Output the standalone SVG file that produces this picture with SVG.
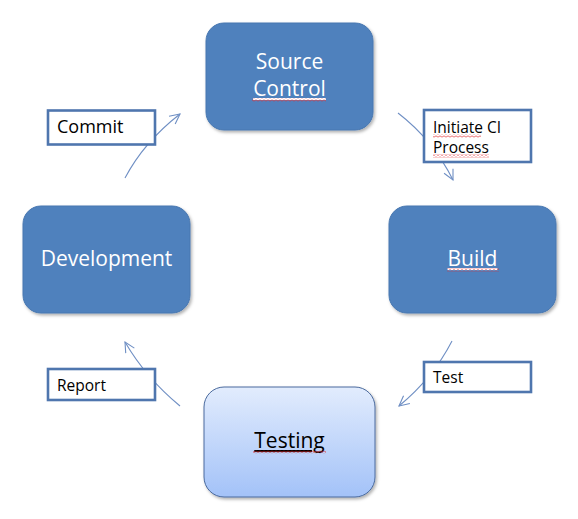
<svg xmlns="http://www.w3.org/2000/svg" width="578" height="519" viewBox="0 0 578 519">
<style>
.node{fill:#4F81BD;stroke:#4877b0;stroke-width:1}
.ntext{font-family:"Open Sans","Noto Sans",sans-serif;font-size:21px;fill:#ffffff;text-anchor:middle}
.lbl{fill:#ffffff;stroke:#4f76ae;stroke-width:2.6}
.ltext{font-family:"Open Sans","Noto Sans",sans-serif;font-size:15.5px;fill:#000000}
.conn{fill:none;stroke:#6f8fc4;stroke-width:1.1;marker-end:url(#arr)}
.sq{fill:url(#squig)}
</style>
<defs>
<marker id="arr" viewBox="0 0 12 12" refX="11" refY="6" markerWidth="12" markerHeight="12" markerUnits="userSpaceOnUse" orient="auto">
<path d="M1 1 L11 6 L1 11" fill="none" stroke="#6f8fc4" stroke-width="1.1"/>
</marker>
<pattern id="squig" width="4" height="3" patternUnits="userSpaceOnUse">
<path d="M0 0.5 L2 2.5 L4 0.5" fill="none" stroke="#e0282c" stroke-width="0.9"/>
</pattern>
<linearGradient id="tg" x1="0" y1="0" x2="0" y2="1">
<stop offset="0" stop-color="#e2ecfd"/>
<stop offset="1" stop-color="#a3c2f8"/>
</linearGradient>
<filter id="sh" x="-10%" y="-10%" width="130%" height="130%">
<feDropShadow dx="1.5" dy="2" stdDeviation="1.5" flood-color="#000" flood-opacity="0.3"/>
</filter>
</defs>
<g id="connectors">
<path class="conn" d="M125 178 Q144 142 180 114"/>
<path class="conn" d="M398 113 Q433 140 453 180"/>
<path class="conn" d="M452 341 Q433 378 399 406"/>
<path class="conn" d="M180 406 Q146 378 125 342"/>
</g>
<g id="source-control">
<rect class="node" x="206" y="23" width="167" height="107" rx="18" filter="url(#sh)"/>
<text class="ntext" x="289.5" y="69">Source</text>
<text class="ntext" x="289.5" y="96" text-decoration="underline">Control</text>
<rect class="sq" x="252" y="98.5" width="74" height="3"/>
</g>
<g id="build">
<rect class="node" x="389" y="206" width="167" height="107" rx="18" filter="url(#sh)"/>
<text class="ntext" x="472.5" y="266" text-decoration="underline">Build</text>
<rect class="sq" x="447" y="268.5" width="52" height="3"/>
</g>
<g id="testing">
<rect x="204" y="387" width="171" height="110" rx="20" fill="url(#tg)" stroke="#4a6a9e" stroke-width="1" filter="url(#sh)"/>
<text class="ntext" x="289.5" y="448" style="fill:#000000" text-decoration="underline">Testing</text>
<rect class="sq" x="253" y="450.5" width="73" height="3"/>
</g>
<g id="development">
<rect class="node" x="23" y="206" width="167" height="107" rx="18" filter="url(#sh)"/>
<text class="ntext" x="106.5" y="266">Development</text>
</g>
<g id="commit">
<rect class="lbl" x="48" y="110.5" width="107" height="34"/>
<text class="ltext" x="57" y="133" style="font-size:18px">Commit</text>
</g>
<g id="initiate-ci">
<rect class="lbl" x="424" y="110" width="107" height="52"/>
<text class="ltext" x="433" y="133">Initiate CI</text>
<text class="ltext" x="433" y="153">Process</text>
<rect class="sq" x="433" y="134.5" width="48" height="3"/>
<rect class="sq" x="433" y="154.5" width="56" height="3"/>
</g>
<g id="test">
<rect class="lbl" x="424" y="362" width="107" height="30"/>
<text class="ltext" x="433" y="383">Test</text>
</g>
<g id="report">
<rect class="lbl" x="48" y="369" width="107" height="31"/>
<text class="ltext" x="57" y="391">Report</text>
</g>
</svg>
